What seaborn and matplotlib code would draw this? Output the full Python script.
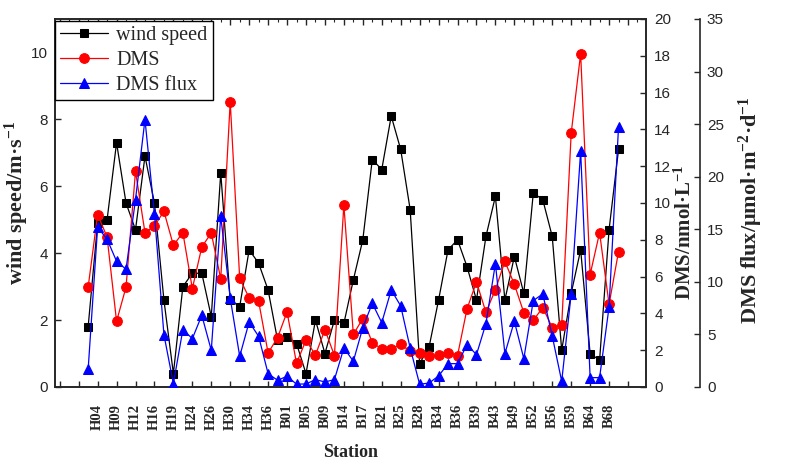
import numpy as np
import pandas as pd
import matplotlib
matplotlib.use("Agg")
import matplotlib.pyplot as plt
from matplotlib.ticker import MultipleLocator
import seaborn as sns

# ---------------- data ----------------
stations = ["H04", "H09", "H12", "H16", "H19", "H24", "H26", "H30", "H34", "H36",
            "B01", "B05", "B09", "B14", "B17", "B21", "B25", "B28", "B34", "B36",
            "B39", "B43", "B49", "B52", "B56", "B59", "B64", "B68"]

wind = [1.8, 4.9, 5.0, 7.3, 5.5, 4.7, 6.9, 5.5, 2.6, 0.4, 3.0, 3.4, 3.4, 2.1, 6.4,
        2.6, 2.4, 4.1, 3.7, 2.9, 1.4, 1.5, 1.3, 0.4, 2.0, 1.0, 2.0, 1.9, 3.2, 4.4,
        6.8, 6.5, 8.1, 7.1, 5.3, 0.7, 1.2, 2.6, 4.1, 4.4, 3.6, 2.6, 4.5, 5.7, 2.6,
        3.9, 2.8, 5.8, 5.6, 4.5, 1.1, 2.8, 4.1, 1.0, 0.8, 4.7, 7.1]

dms = [5.43, 9.37, 8.15, 3.57, 5.43, 11.72, 8.39, 8.75, 9.55, 7.7, 8.39, 5.35, 7.61,
       8.37, 5.87, 15.51, 5.91, 4.84, 4.66, 1.85, 2.68, 4.08, 1.29, 2.54, 1.74, 3.12,
       1.71, 9.89, 2.86, 3.72, 2.41, 2.07, 2.07, 2.32, 1.94, 1.87, 1.67, 1.76, 1.85,
       1.71, 4.24, 5.71, 4.06, 5.29, 6.83, 5.58, 4.04, 3.62, 4.32, 3.23, 3.35, 13.79,
       18.12, 6.11, 8.39, 4.49, 7.36]

flux = [1.68, 15.2, 14.05, 11.96, 11.2, 17.83, 25.44, 16.46, 4.98, 0.32, 5.46, 4.6,
        6.82, 3.49, 16.24, 8.47, 2.92, 6.18, 4.82, 1.27, 0.64, 1.02, 0.27, 0.29, 0.7,
        0.48, 0.7, 3.71, 2.45, 5.65, 7.96, 6.12, 9.23, 7.71, 3.71, 0.26, 0.38, 1.05,
        2.22, 2.22, 4.03, 3.08, 6.03, 11.74, 3.18, 6.25, 2.7, 8.22, 8.85, 4.85, 0.54,
        8.85, 22.45, 0.89, 0.89, 7.61, 24.74]

df = pd.DataFrame({"pos": np.arange(len(wind)), "wind": wind, "dms": dms, "flux": flux})

# ---------------- style ----------------
sns.set_theme(style="ticks")
plt.rcParams["font.family"] = ["Liberation Sans", "DejaVu Sans"]
plt.rcParams["mathtext.fontset"] = "custom"
plt.rcParams["mathtext.rm"] = "Liberation Serif:bold"
plt.rcParams["mathtext.bf"] = "Liberation Serif:bold"
plt.rcParams["mathtext.default"] = "bf"
plt.rcParams["axes.linewidth"] = 1.2

SERIF = ["Liberation Serif", "DejaVu Serif"]

fig = plt.figure(figsize=(7.95, 4.72), dpi=100)
ax = fig.add_axes([55 / 795, 85 / 472, 591 / 795, 368 / 472])
ax2 = ax.twinx()
ax3 = ax.twinx()

lw = 0.9
sns.lineplot(data=df, x="pos", y="wind", ax=ax, color="black", marker="s",
             markersize=6, markeredgecolor="black", linewidth=lw, legend=False)
sns.lineplot(data=df, x="pos", y="dms", ax=ax2, color="#ff0000", marker="o",
             markersize=7, markeredgecolor="#ff0000", linewidth=lw, legend=False)
sns.lineplot(data=df, x="pos", y="flux", ax=ax3, color="#0000ff", marker="^",
             markersize=7.5, markeredgecolor="#0000ff", linewidth=lw, legend=False)

# ---------------- x axis ----------------
ax.set_xlim(-3.5, 58.9)
xt = np.arange(-3, 58, 2)
xlabels = ["", ""] + stations + [""]
ax.set_xticks(xt)
ax.set_xticklabels(xlabels, rotation=90, fontfamily=SERIF, fontweight="bold",
                   fontsize=10.5)
ax.xaxis.set_minor_locator(MultipleLocator(1))
ax.tick_params(axis="x", which="major", direction="in", length=4.5, width=1,
               bottom=True, top=True, pad=12)
ax.tick_params(axis="x", which="minor", direction="in", length=2.5, width=0.8,
               bottom=False, top=True)
ax.set_xlabel("Station", fontfamily=SERIF, fontweight="bold", fontsize=13,
              labelpad=10)

# ---------------- left axis ----------------
ax.set_ylim(0, 11)
ax.set_yticks(np.arange(0, 11, 2))
ax.tick_params(axis="y", direction="in", length=4.5, width=1, labelsize=11,
               pad=5, right=False)
ax.set_ylabel("wind speed/m\u00b7s$^{-1}$", fontfamily=SERIF, fontweight="bold",
              fontsize=16)
ax.yaxis.set_label_coords(-0.040, 0.5)

# ---------------- DMS axis ----------------
ax2.set_ylim(0, 20)
ax2.set_yticks(np.arange(0, 21, 2))
ax2.tick_params(axis="y", direction="in", length=4.5, width=1, labelsize=11, pad=6)
ax2.set_ylabel("DMS/nmol\u00b7L$^{-1}$", fontfamily=SERIF, fontweight="bold",
               fontsize=15)
ax2.yaxis.set_label_coords(1.049, 0.42)

# ---------------- DMS flux axis ----------------
ax3.set_ylim(0, 35)
ax3.set_yticks(np.arange(0, 36, 5))
ax3.spines["right"].set_position(("outward", 54 * 0.72))
for s in ["top", "bottom", "left"]:
    ax3.spines[s].set_visible(False)
ax3.tick_params(axis="y", direction="in", length=4.5, width=1, labelsize=11, pad=5)
ax3.set_ylabel("DMS flux/\u03bcmol\u00b7m$^{-2}$\u00b7d$^{-1}$", fontfamily=SERIF,
               fontweight="bold", fontsize=16)
ax3.yaxis.set_label_coords(1.1535, 0.48)

for a in (ax, ax2, ax3):
    a.grid(False)

# ---------------- legend ----------------
handles = [ax.get_lines()[0], ax2.get_lines()[0], ax3.get_lines()[0]]
leg = ax3.legend(handles, ["wind speed", "DMS", "DMS flux"], loc="upper left",
                 bbox_to_anchor=(0.0, 0.995), prop={"family": SERIF, "size": 14.5},
                 frameon=True, fancybox=False, edgecolor="black", framealpha=1,
                 borderpad=0.25, labelspacing=0.3, handlelength=2.4,
                 handletextpad=0.4, borderaxespad=0.0)
leg.get_frame().set_linewidth(1.0)

fig.savefig("out.png", dpi=100)
